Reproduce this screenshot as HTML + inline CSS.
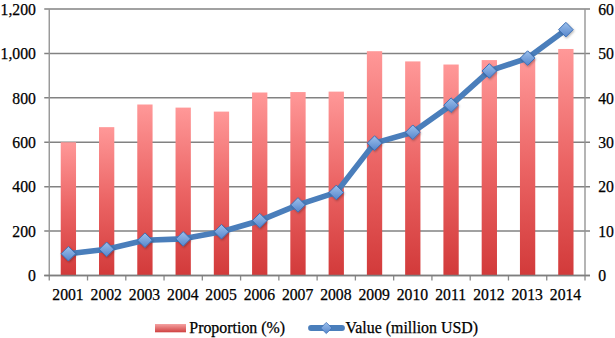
<!DOCTYPE html><html><head><meta charset="utf-8"><style>html,body{margin:0;padding:0;background:#fff;width:615px;height:338px;overflow:hidden}svg{display:block}text{font-family:"Liberation Serif",serif;fill:#000;stroke:#000;stroke-width:0.25px}</style></head><body>
<svg width="615" height="338" viewBox="0 0 615 338">
<defs>
<linearGradient id="bg" x1="0" y1="0" x2="0" y2="1"><stop offset="0" stop-color="#ff9898"/><stop offset="0.5" stop-color="#eb6464"/><stop offset="1" stop-color="#d23a3a"/></linearGradient>
<linearGradient id="lg" x1="0" y1="0" x2="0" y2="1"><stop offset="0" stop-color="#f5a2a2"/><stop offset="1" stop-color="#cf4040"/></linearGradient>
<linearGradient id="dg" x1="0" y1="0" x2="0" y2="1"><stop offset="0" stop-color="#9cc0ec"/><stop offset="1" stop-color="#5686cc"/></linearGradient>
<filter id="sh" x="-30%" y="-30%" width="160%" height="160%"><feDropShadow dx="0.8" dy="1.2" stdDeviation="0.8" flood-color="#000" flood-opacity="0.3"/></filter>
</defs>
<line x1="44.25" y1="9.00" x2="590.0" y2="9.00" stroke="#828282" stroke-width="1.5"/>
<line x1="44.25" y1="53.42" x2="590.0" y2="53.42" stroke="#828282" stroke-width="1.5"/>
<line x1="44.25" y1="97.83" x2="590.0" y2="97.83" stroke="#828282" stroke-width="1.5"/>
<line x1="44.25" y1="142.25" x2="590.0" y2="142.25" stroke="#828282" stroke-width="1.5"/>
<line x1="44.25" y1="186.67" x2="590.0" y2="186.67" stroke="#828282" stroke-width="1.5"/>
<line x1="44.25" y1="231.08" x2="590.0" y2="231.08" stroke="#828282" stroke-width="1.5"/>
<line x1="44.25" y1="275.50" x2="590.0" y2="275.50" stroke="#828282" stroke-width="1.5"/>
<line x1="49.25" y1="9.0" x2="49.25" y2="275.5" stroke="#959595" stroke-width="1.4"/>
<line x1="585.0" y1="9.0" x2="585.0" y2="275.5" stroke="#959595" stroke-width="1.4"/>
<line x1="49.25" y1="275.5" x2="49.25" y2="280.5" stroke="#8a8a8a" stroke-width="1.3"/>
<line x1="87.52" y1="275.5" x2="87.52" y2="280.5" stroke="#8a8a8a" stroke-width="1.3"/>
<line x1="125.79" y1="275.5" x2="125.79" y2="280.5" stroke="#8a8a8a" stroke-width="1.3"/>
<line x1="164.05" y1="275.5" x2="164.05" y2="280.5" stroke="#8a8a8a" stroke-width="1.3"/>
<line x1="202.32" y1="275.5" x2="202.32" y2="280.5" stroke="#8a8a8a" stroke-width="1.3"/>
<line x1="240.59" y1="275.5" x2="240.59" y2="280.5" stroke="#8a8a8a" stroke-width="1.3"/>
<line x1="278.86" y1="275.5" x2="278.86" y2="280.5" stroke="#8a8a8a" stroke-width="1.3"/>
<line x1="317.12" y1="275.5" x2="317.12" y2="280.5" stroke="#8a8a8a" stroke-width="1.3"/>
<line x1="355.39" y1="275.5" x2="355.39" y2="280.5" stroke="#8a8a8a" stroke-width="1.3"/>
<line x1="393.66" y1="275.5" x2="393.66" y2="280.5" stroke="#8a8a8a" stroke-width="1.3"/>
<line x1="431.93" y1="275.5" x2="431.93" y2="280.5" stroke="#8a8a8a" stroke-width="1.3"/>
<line x1="470.20" y1="275.5" x2="470.20" y2="280.5" stroke="#8a8a8a" stroke-width="1.3"/>
<line x1="508.46" y1="275.5" x2="508.46" y2="280.5" stroke="#8a8a8a" stroke-width="1.3"/>
<line x1="546.73" y1="275.5" x2="546.73" y2="280.5" stroke="#8a8a8a" stroke-width="1.3"/>
<line x1="585.00" y1="275.5" x2="585.00" y2="280.5" stroke="#8a8a8a" stroke-width="1.3"/>
<rect x="60.73" y="142.25" width="15.3" height="133.25" fill="url(#bg)"/>
<rect x="99.00" y="127.15" width="15.3" height="148.35" fill="url(#bg)"/>
<rect x="137.27" y="104.50" width="15.3" height="171.00" fill="url(#bg)"/>
<rect x="175.54" y="107.60" width="15.3" height="167.90" fill="url(#bg)"/>
<rect x="213.81" y="111.60" width="15.3" height="163.90" fill="url(#bg)"/>
<rect x="252.07" y="92.50" width="15.3" height="183.00" fill="url(#bg)"/>
<rect x="290.34" y="92.06" width="15.3" height="183.44" fill="url(#bg)"/>
<rect x="328.61" y="91.62" width="15.3" height="183.88" fill="url(#bg)"/>
<rect x="366.88" y="51.20" width="15.3" height="224.30" fill="url(#bg)"/>
<rect x="405.14" y="61.41" width="15.3" height="214.09" fill="url(#bg)"/>
<rect x="443.41" y="64.52" width="15.3" height="210.98" fill="url(#bg)"/>
<rect x="481.68" y="60.08" width="15.3" height="215.42" fill="url(#bg)"/>
<rect x="519.95" y="59.19" width="15.3" height="216.31" fill="url(#bg)"/>
<rect x="558.22" y="48.97" width="15.3" height="226.53" fill="url(#bg)"/>
<line x1="44.25" y1="275.5" x2="590.0" y2="275.5" stroke="#7e7e7e" stroke-width="1.6"/>
<polyline points="68.38,253.74 106.65,249.29 144.92,240.19 183.19,238.86 221.46,231.75 259.72,220.65 297.99,204.88 336.26,192.44 374.53,143.14 412.79,132.26 451.06,105.16 489.33,70.96 527.60,58.08 565.87,29.65" fill="none" stroke="#4a7ebb" stroke-width="5.6" stroke-linejoin="round" stroke-linecap="round"/>
<path d="M68.38 246.44L75.68 253.74L68.38 261.04L61.08 253.74Z" fill="url(#dg)" stroke="#3d6fb5" stroke-width="1" filter="url(#sh)"/>
<path d="M106.65 241.99L113.95 249.29L106.65 256.59L99.35 249.29Z" fill="url(#dg)" stroke="#3d6fb5" stroke-width="1" filter="url(#sh)"/>
<path d="M144.92 232.89L152.22 240.19L144.92 247.49L137.62 240.19Z" fill="url(#dg)" stroke="#3d6fb5" stroke-width="1" filter="url(#sh)"/>
<path d="M183.19 231.56L190.49 238.86L183.19 246.16L175.89 238.86Z" fill="url(#dg)" stroke="#3d6fb5" stroke-width="1" filter="url(#sh)"/>
<path d="M221.46 224.45L228.76 231.75L221.46 239.05L214.16 231.75Z" fill="url(#dg)" stroke="#3d6fb5" stroke-width="1" filter="url(#sh)"/>
<path d="M259.72 213.35L267.02 220.65L259.72 227.95L252.42 220.65Z" fill="url(#dg)" stroke="#3d6fb5" stroke-width="1" filter="url(#sh)"/>
<path d="M297.99 197.58L305.29 204.88L297.99 212.18L290.69 204.88Z" fill="url(#dg)" stroke="#3d6fb5" stroke-width="1" filter="url(#sh)"/>
<path d="M336.26 185.14L343.56 192.44L336.26 199.74L328.96 192.44Z" fill="url(#dg)" stroke="#3d6fb5" stroke-width="1" filter="url(#sh)"/>
<path d="M374.53 135.84L381.83 143.14L374.53 150.44L367.23 143.14Z" fill="url(#dg)" stroke="#3d6fb5" stroke-width="1" filter="url(#sh)"/>
<path d="M412.79 124.96L420.09 132.26L412.79 139.56L405.49 132.26Z" fill="url(#dg)" stroke="#3d6fb5" stroke-width="1" filter="url(#sh)"/>
<path d="M451.06 97.86L458.36 105.16L451.06 112.46L443.76 105.16Z" fill="url(#dg)" stroke="#3d6fb5" stroke-width="1" filter="url(#sh)"/>
<path d="M489.33 63.66L496.63 70.96L489.33 78.26L482.03 70.96Z" fill="url(#dg)" stroke="#3d6fb5" stroke-width="1" filter="url(#sh)"/>
<path d="M527.60 50.78L534.90 58.08L527.60 65.38L520.30 58.08Z" fill="url(#dg)" stroke="#3d6fb5" stroke-width="1" filter="url(#sh)"/>
<path d="M565.87 22.35L573.17 29.65L565.87 36.95L558.57 29.65Z" fill="url(#dg)" stroke="#3d6fb5" stroke-width="1" filter="url(#sh)"/>
<text x="35.9" y="281.20" font-size="15.7" text-anchor="end">0</text>
<text x="598.2" y="281.20" font-size="15.7">0</text>
<text x="35.9" y="236.78" font-size="15.7" text-anchor="end">200</text>
<text x="598.2" y="236.78" font-size="15.7">10</text>
<text x="35.9" y="192.37" font-size="15.7" text-anchor="end">400</text>
<text x="598.2" y="192.37" font-size="15.7">20</text>
<text x="35.9" y="147.95" font-size="15.7" text-anchor="end">600</text>
<text x="598.2" y="147.95" font-size="15.7">30</text>
<text x="35.9" y="103.53" font-size="15.7" text-anchor="end">800</text>
<text x="598.2" y="103.53" font-size="15.7">40</text>
<text x="35.9" y="59.12" font-size="15.7" text-anchor="end">1,000</text>
<text x="598.2" y="59.12" font-size="15.7">50</text>
<text x="35.9" y="14.70" font-size="15.7" text-anchor="end">1,200</text>
<text x="598.2" y="14.70" font-size="15.7">60</text>
<text x="67.98" y="299.6" font-size="15.7" text-anchor="middle">2001</text>
<text x="106.25" y="299.6" font-size="15.7" text-anchor="middle">2002</text>
<text x="144.52" y="299.6" font-size="15.7" text-anchor="middle">2003</text>
<text x="182.79" y="299.6" font-size="15.7" text-anchor="middle">2004</text>
<text x="221.06" y="299.6" font-size="15.7" text-anchor="middle">2005</text>
<text x="259.32" y="299.6" font-size="15.7" text-anchor="middle">2006</text>
<text x="297.59" y="299.6" font-size="15.7" text-anchor="middle">2007</text>
<text x="335.86" y="299.6" font-size="15.7" text-anchor="middle">2008</text>
<text x="374.13" y="299.6" font-size="15.7" text-anchor="middle">2009</text>
<text x="412.39" y="299.6" font-size="15.7" text-anchor="middle">2010</text>
<text x="450.66" y="299.6" font-size="15.7" text-anchor="middle">2011</text>
<text x="488.93" y="299.6" font-size="15.7" text-anchor="middle">2012</text>
<text x="527.20" y="299.6" font-size="15.7" text-anchor="middle">2013</text>
<text x="565.47" y="299.6" font-size="15.7" text-anchor="middle">2014</text>
<rect x="155" y="324" width="31" height="8.3" fill="url(#lg)"/>
<text x="189.3" y="332.5" font-size="15.9">Proportion (%)</text>
<line x1="311" y1="328" x2="342" y2="328" stroke="#4a7ebb" stroke-width="5.8" stroke-linecap="round"/>
<path d="M326.3 322.4L331.90000000000003 328L326.3 333.6L320.7 328Z" fill="url(#dg)" stroke="#3d6fb5" stroke-width="0.8"/>
<text x="345.6" y="332.5" font-size="15.9">Value (million USD)</text>
</svg></body></html>
